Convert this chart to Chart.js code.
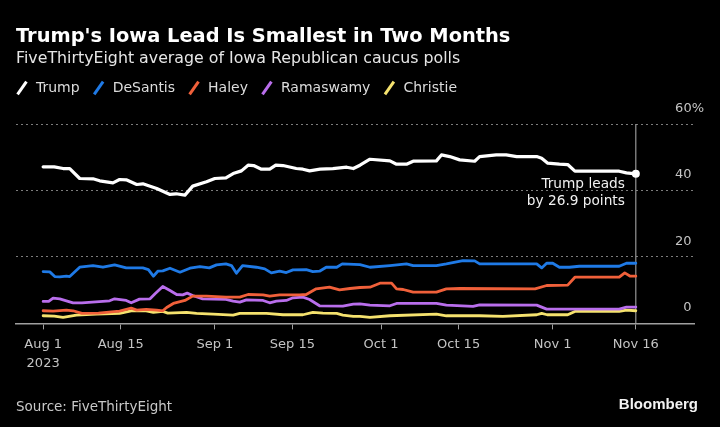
<!DOCTYPE html>
<html><head><meta charset="utf-8">
<script src="https://cdn.jsdelivr.net/npm/chart.js@4/dist/chart.umd.min.js"></script>
<style>
html,body{margin:0;padding:0;background:#000;}
#wrap{position:relative;width:720px;height:427px;overflow:hidden;background:#000;}
#c{position:absolute;left:0;top:0;}
.t{position:absolute;white-space:nowrap;line-height:1;}
#title{left:16px;top:24.4px;font:bold 19.4px 'DejaVu Sans';color:#fff;}
#sub{left:16px;top:48.3px;font:15.8px 'DejaVu Sans';color:#e6e6e6;}
#src{left:16px;top:398px;font:13.5px 'DejaVu Sans';color:#c8c8c8;}
#bb{right:22px;top:394.6px;font:bold 15px 'Liberation Sans';color:#f2f2f2;}
</style></head><body>
<div id="wrap">
<canvas id="c" width="720" height="427"></canvas>
<div class="t" id="title">Trump's Iowa Lead Is Smallest in Two Months</div>
<div class="t" id="sub">FiveThirtyEight average of Iowa Republican caucus polls</div>
<div class="t" id="src">Source: FiveThirtyEight</div>
<div class="t" id="bb">Bloomberg</div>
</div>
<script>
// x values are days since Aug 1, 2023
const tickDays = [0, 14, 31, 45, 61, 75, 92, 107];
const tickLabels = [['Aug 1', '2023'], 'Aug 15', 'Sep 1', 'Sep 15', 'Oct 1', 'Oct 15', 'Nov 1', 'Nov 16'];
const yTicks = [0, 20, 40, 60];
const lastDay = 107;

const seriesNames = ['Trump', 'DeSantis', 'Haley', 'Ramaswamy', 'Christie'];
const seriesColors = ['#ffffff', '#1f7ae6', '#f0603a', '#b96eec', '#f5e26e'];

const trumpDays = [0,2,3.6,4.8,6.6,9,10.2,12.6,13.8,15,16.9,18,20.5,22.9,24,25.6,27,29.5,31,33,34.3,35.8,37,38,39.4,40.9,42,43.3,45.7,46.9,48.1,50,52.3,54.8,56,57.2,59,62.6,63.8,65.6,66.8,71,71.9,73.4,75.2,77.9,78.8,81.8,83.6,85.5,89.1,90,91.1,93.2,94.7,96,104,105.3,107];
const trumpValues = [47.1,47.1,46.6,46.6,43.6,43.5,42.9,42.3,43.3,43.2,41.8,42.0,40.6,38.8,39.0,38.6,41.3,42.6,43.6,43.8,45.1,45.9,47.6,47.5,46.4,46.4,47.6,47.5,46.6,46.4,45.9,46.4,46.6,47.0,46.6,47.6,49.4,48.9,47.9,47.9,48.8,48.9,50.7,50.2,49.2,48.8,50.2,50.7,50.7,50.2,50.2,49.7,48.2,47.9,47.8,45.8,45.8,45.3,45.0];

const desantisDays = [0,1.2,2.1,3,4.2,4.8,6.6,9,10.8,12.9,15,18,19,19.9,20.7,21.6,22.9,24.7,26.5,28.3,30,31.3,33,34,34.9,36,38.5,40,41.2,42.7,43.9,45.1,47.5,48.7,49.9,51.1,53,54,57.2,59,62.6,65.6,66.8,71,72.8,75.8,77.9,78.8,89.1,90,90.9,92,93.2,95,96.8,104,105.3,107];
const desantisValues = [15.6,15.5,14.1,14.0,14.2,14.1,16.9,17.4,16.9,17.6,16.7,16.7,16.2,14.2,15.7,15.8,16.6,15.4,16.6,17.1,16.7,17.6,17.9,17.4,15.1,17.4,16.9,16.4,15.2,15.7,15.3,16.1,16.2,15.6,15.7,16.9,16.9,17.9,17.7,16.9,17.4,17.9,17.4,17.4,17.9,18.9,18.8,17.9,17.9,16.7,18.1,18.1,16.9,16.9,17.2,17.2,18.1,18.1];

const haleyDays = [0,1.8,4.2,5.4,7,10,13.8,15.9,16.9,18.6,20.5,21.6,22.3,23.5,25.6,27,29.5,33,35.5,37,39.7,40.9,42.7,46.3,47.5,49.3,51.7,53.5,55.4,57.2,59,60.8,62.9,63.8,65,66.8,71,72.8,75.2,88.8,90.9,94.7,96,104,105,106,107];
const haleyValues = [3.8,3.7,4.0,3.8,3.0,3.1,3.7,4.6,4.0,4.2,4.0,3.8,4.8,6.0,6.9,8.2,8.2,7.9,7.9,8.7,8.6,8.2,8.6,8.6,8.7,10.4,10.9,10.1,10.5,10.8,10.9,12.1,12.1,10.4,10.2,9.4,9.4,10.4,10.5,10.4,11.4,11.5,13.9,13.9,15.2,14.2,14.2];

const ramaswamyDays = [0,1,1.8,3,5.4,7,12,12.9,15,15.9,17.4,19.3,20.2,21.6,22.9,24.1,25.2,26,27,28.8,33,34.3,35.5,36.7,39.7,40.9,42.1,43.9,45.1,46.9,48.1,49.9,54.1,56,57.2,59,62.6,63.8,71,72.8,77.6,78.8,89.1,90.9,104,105.3,107];
const ramaswamyValues = [6.6,6.6,7.6,7.4,6.2,6.2,6.8,7.4,6.9,6.2,7.3,7.4,8.9,11.1,9.9,8.7,8.6,9.1,8.4,7.4,7.2,6.7,6.4,7.1,6.9,6.2,6.7,6.9,7.7,7.9,7.2,5.3,5.2,5.8,5.9,5.5,5.3,6.0,6.0,5.5,5.1,5.6,5.5,4.3,4.3,4.9,4.9];

const christieDays = [0,2,3.6,6,9.6,13.8,15.9,18.6,19.9,21.6,22.5,25.9,27.7,30.7,34.3,35.5,40.3,43.3,46.9,48.7,50.5,53,54.1,56,57.2,59,62.6,71,72.8,78.8,83,89.1,90,91,94.7,96,104,105.3,107];
const christieValues = [2.3,2.2,1.8,2.5,2.8,3.0,3.8,3.8,3.3,3.6,3.1,3.3,3.0,2.8,2.5,3.0,3.0,2.6,2.6,3.3,3.1,3.0,2.5,2.1,2.1,1.8,2.3,2.8,2.3,2.3,2.1,2.6,3.0,2.6,2.6,3.6,3.6,4.0,3.8];

const noteLines = ['Trump leads', 'by 26.9 points'];

const allDays = [trumpDays, desantisDays, haleyDays, ramaswamyDays, christieDays];
const allValues = [trumpValues, desantisValues, haleyValues, ramaswamyValues, christieValues];

Chart.defaults.font.family = "'DejaVu Sans', sans-serif";

const datasets = seriesNames.map((name, s) => {
  const days = allDays[s], vals = allValues[s];
  const last = days.length - 1;
  return {
    label: name,
    data: days.map((d, i) => ({x: d, y: vals[i]})),
    borderColor: seriesColors[s],
    backgroundColor: seriesColors[s],
    borderWidth: s === 0 ? 3.2 : 2.8,
    borderJoinStyle: 'round',
    borderCapStyle: 'round',
    tension: 0,
    pointStyle: 'circle',
    pointRotation: -55,
    pointBorderWidth: 3,
    pointBackgroundColor: seriesColors[s],
    pointRadius: s === 0 ? (ctx => ctx.dataIndex === last ? 2.5 : 0) : 0,
    pointHoverRadius: 0
  };
});
datasets.push({
  label: '',
  data: [{x: lastDay, y: yTicks[0]}, {x: lastDay, y: yTicks[yTicks.length - 1]}],
  borderColor: '#b4b4b4',
  borderWidth: 1,
  pointRadius: 0,
  pointHoverRadius: 0
});

const legendAdjust = {
  id: 'legendAdjust',
  beforeInit(chart) {
    const lg = chart.legend;
    if (!lg) return;
    const fit = lg.fit;
    lg.fit = function () { fit.call(this); this.height += 19; };
  },
  afterLayout(chart) {
    if (chart.legend) { chart.legend.left -= 13; chart.legend.right -= 13; }
  }
};

const leadNote = {
  id: 'leadNote',
  afterDatasetsDraw(chart) {
    const {ctx, scales} = chart;
    const px = scales.x.getPixelForValue(trumpDays[trumpDays.length - 1]) - 11;
    const py = scales.y.getPixelForValue(trumpValues[trumpValues.length - 1]);
    ctx.save();
    ctx.font = "13.7px 'DejaVu Sans'";
    ctx.fillStyle = '#f0f0f0';
    ctx.textAlign = 'right';
    ctx.textBaseline = 'middle';
    noteLines.forEach((t, i) => ctx.fillText(t, px, py + 10.5 + i * 17.5));
    ctx.restore();
  }
};

new Chart(document.getElementById('c'), {
  type: 'line',
  data: {datasets},
  plugins: [legendAdjust, leadNote],
  options: {
    responsive: false,
    animation: false,
    events: [],
    layout: {padding: {top: 69, left: 16, right: 26, bottom: 47.6}},
    plugins: {
      tooltip: {enabled: false},
      title: {display: false},
      legend: {
        display: true,
        position: 'top',
        align: 'start',
        labels: {
          color: '#dcdcdc',
          font: {size: 14},
          usePointStyle: true,
          pointStyle: 'line',
          boxWidth: 14,
          boxHeight: 11,
          padding: 12,
          filter: item => item.text !== ''
        }
      }
    },
    scales: {
      x: {
        type: 'linear',
        min: -4.9,
        max: 117.5,
        afterBuildTicks: scale => { scale.ticks = tickDays.map(v => ({value: v})); },
        ticks: {
          autoSkip: false,
          maxRotation: 0,
          minRotation: 0,
          padding: 6,
          color: '#c4c4c4',
          font: {size: 13, lineHeight: 19 / 13},
          callback: (v, i) => tickLabels[i]
        },
        grid: {
          display: true,
          drawOnChartArea: false,
          drawTicks: true,
          tickLength: 6,
          tickColor: '#a0a0a0',
          tickWidth: 1
        },
        border: {display: true, color: '#a0a0a0', width: 1.5}
      },
      y: {
        type: 'linear',
        position: 'right',
        min: yTicks[0],
        max: yTicks[yTicks.length - 1],
        afterBuildTicks: scale => { scale.ticks = yTicks.map(v => ({value: v})); },
        afterFit: scale => { scale.width = 0; },
        ticks: {
          mirror: true,
          padding: 10,
          labelOffset: -15.5,
          color: '#c4c4c4',
          font: {size: 13},
          callback: v => v === yTicks[yTicks.length - 1] ? v + '%' : v + '   '
        },
        grid: {
          drawTicks: false,
          tickLength: 0,
          lineWidth: 1,
          color: ctx => ctx.tick && ctx.tick.value === 0 ? 'rgba(0,0,0,0)' : '#7c7c7c'
        },
        border: {display: false, dash: [2, 3]}
      }
    }
  }
});
</script>
</body></html>
